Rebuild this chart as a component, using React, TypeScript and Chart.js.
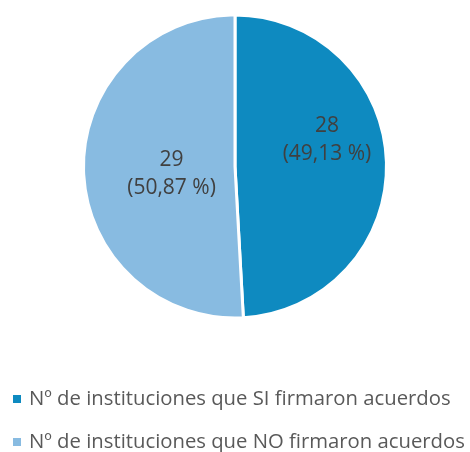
import React, { useEffect, useRef } from "react";
import { Chart, registerables } from "chart.js";

Chart.register(...registerables);

const categories = [
  "Nº de instituciones que SI firmaron acuerdos",
  "Nº de instituciones que NO firmaron acuerdos",
];
const values = [28, 29];
const percentLabels = ["(49,13 %)", "(50,87 %)"];
const colors = ["#0E8AC0", "#88BBE1"];

const FONT = "'Open Sans', 'Liberation Sans', sans-serif";

// label placement relative to pie centre, as a fraction of the radius
const labelOffsets = [
  { dx: 0.607, dy: -0.175 },
  { dx: -0.419, dy: 0.05 },
];

const sliceLabels = {
  id: "sliceLabels",
  afterDatasetsDraw(chart: any) {
    const meta = chart.getDatasetMeta(0);
    const ctx = chart.ctx;
    ctx.save();
    ctx.fillStyle = "#404040";
    ctx.font = `21px ${FONT}`;
    ctx.textAlign = "center";
    ctx.textBaseline = "middle";
    meta.data.forEach((arc: any, i: number) => {
      const r = arc.outerRadius;
      const x = arc.x + labelOffsets[i].dx * r;
      const y = arc.y + labelOffsets[i].dy * r;
      ctx.fillText(String(values[i]), x, y - 14);
      ctx.fillText(percentLabels[i], x, y + 14);
    });
    ctx.restore();
  },
};

const customLegend = {
  id: "customLegend",
  afterDraw(chart: any) {
    const ctx = chart.ctx;
    ctx.save();
    ctx.font = `20.3px ${FONT}`;
    ctx.textBaseline = "middle";
    ctx.textAlign = "left";
    categories.forEach((label, i) => {
      const y = 399 + i * 43;
      ctx.fillStyle = colors[i];
      ctx.fillRect(13, y - 4, 8, 8);
      ctx.fillStyle = "#595959";
      ctx.fillText(label, 29, y);
    });
    ctx.restore();
  },
};

export default function App() {
  const ref = useRef<HTMLCanvasElement>(null);
  useEffect(() => {
    document.body.style.margin = "0";
    const chart = new Chart(ref.current!, {
      type: "pie",
      data: {
        labels: categories,
        datasets: [
          {
            data: values,
            backgroundColor: colors,
            borderColor: "#ffffff",
            borderWidth: 3,
          },
        ],
      },
      options: {
        animation: false,
        responsive: false,
        layout: { padding: { top: 13.5, bottom: 132.5, left: 0, right: 0 } },
        plugins: {
          legend: { display: false },
          tooltip: { enabled: false },
        },
      },
      plugins: [sliceLabels, customLegend],
    });
    return () => chart.destroy();
  }, []);
  return (
    <div style={{ width: 470, height: 452, background: "#fff" }}>
      <canvas ref={ref} width={470} height={452} />
    </div>
  );
}
